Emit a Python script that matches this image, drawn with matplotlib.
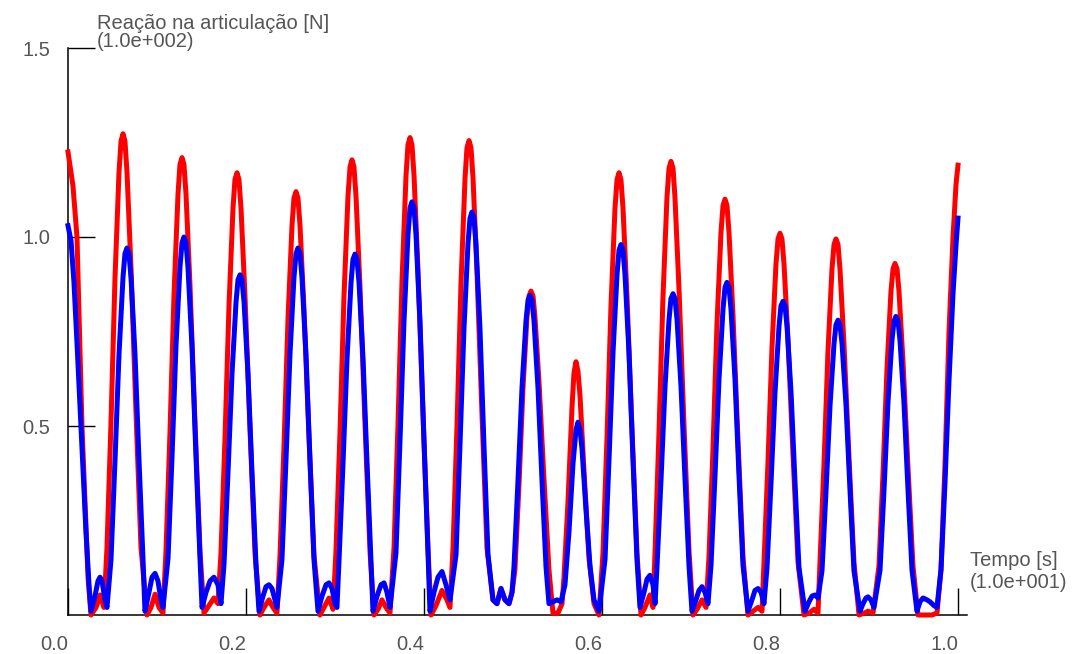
import numpy as np
import matplotlib
matplotlib.use("Agg")
from matplotlib import pyplot as plt

# Reação na articulação ao longo do tempo (tempo em s, força em N)
t_vermelho = [
    0.000, 0.056, 0.101, 0.135, 0.157, 0.191, 0.225, 0.258, 0.315, 0.360, 0.404,
    0.438, 0.483, 0.528, 0.573, 0.596, 0.618, 0.640, 0.663, 0.708, 0.764, 0.820,
    0.888, 0.933, 0.978, 1.022, 1.067,
    1.101, 1.146, 1.191, 1.236, 1.258, 1.281, 1.303, 1.326, 1.371, 1.427, 1.483,
    1.528, 1.584, 1.640, 1.685,
    1.719, 1.764, 1.809, 1.854, 1.876, 1.899, 1.921, 1.944, 1.989, 2.045, 2.101,
    2.157, 2.202, 2.258, 2.303, 2.348,
    2.382, 2.427, 2.472, 2.517, 2.539, 2.562, 2.584, 2.607, 2.652, 2.708, 2.764,
    2.831, 2.876, 2.933, 2.978,
    3.011, 3.056, 3.101, 3.146, 3.169, 3.191, 3.213, 3.236, 3.281, 3.337, 3.393,
    3.438, 3.483, 3.528, 3.573, 3.618,
    3.663, 3.708, 3.753, 3.798, 3.820, 3.843, 3.865, 3.888, 3.933, 3.989, 4.045,
    4.079, 4.135, 4.202, 4.258, 4.292,
    4.326, 4.371, 4.416, 4.461, 4.483, 4.506, 4.528, 4.551, 4.596, 4.652, 4.708,
    4.775, 4.820, 4.865, 4.910, 4.955, 4.989,
    5.022, 5.067, 5.112, 5.157, 5.180, 5.202, 5.225, 5.247, 5.292, 5.348, 5.404,
    5.449, 5.506, 5.551,
    5.573, 5.618, 5.663, 5.685, 5.708, 5.730, 5.753, 5.798, 5.854, 5.910, 5.966,
    6.011, 6.056, 6.101, 6.146, 6.169, 6.191, 6.213, 6.236, 6.281, 6.337, 6.393,
    6.438, 6.483, 6.539, 6.573,
    6.596, 6.640, 6.685, 6.730, 6.753, 6.775, 6.798, 6.820, 6.865, 6.921, 6.978,
    7.022, 7.067, 7.124, 7.169,
    7.202, 7.247, 7.292, 7.337, 7.360, 7.382, 7.404, 7.427, 7.472, 7.528, 7.584,
    7.640, 7.697, 7.753, 7.798,
    7.820, 7.865, 7.910, 7.955, 7.978, 8.000, 8.022, 8.045, 8.090, 8.146, 8.202,
    8.270, 8.326, 8.382, 8.427,
    8.449, 8.494, 8.539, 8.584, 8.607, 8.629, 8.652, 8.674, 8.719, 8.775, 8.831,
    8.888, 8.944, 8.989, 9.045,
    9.112, 9.157, 9.202, 9.247, 9.270, 9.292, 9.315, 9.337, 9.382, 9.438, 9.494,
    9.551, 9.629, 9.708, 9.764,
    9.809, 9.854, 9.899, 9.944, 9.978, 10.000,
]
f_vermelho = [
    122.5, 113.5, 100, 69, 50, 30, 10, 0, 2, 5.3, 2,
    17.8, 50.9, 89.1, 117.1, 125.4, 127.3, 125.4, 117.1, 91.7, 53.5, 17.8,
    0, 2, 5.5, 2, 0.5,
    16.9, 48.4, 84.7, 111.3, 119.2, 121, 119.2, 111.3, 87.1, 50.8, 16.9,
    0.5, 2.5, 4.5, 3,
    16.4, 46.8, 81.9, 107.6, 115.2, 117, 115.2, 107.6, 84.2, 49.1, 16.4,
    0, 2, 4, 2, 0.5,
    15.7, 44.8, 78.4, 103, 110.3, 112, 110.3, 103, 80.6, 47, 15.7,
    0, 2, 4.5, 1.5,
    16.9, 48.2, 84.3, 110.8, 118.6, 120.4, 118.6, 110.8, 86.7, 50.6, 16.9,
    0, 1.5, 4, 2, 0.5,
    17.7, 50.5, 88.4, 116.2, 124.4, 126.3, 124.4, 116.2, 90.9, 53, 17.7,
    0, 2.5, 6.5, 4, 2,
    17.6, 50.2, 87.9, 115.5, 123.6, 125.5, 123.6, 115.5, 90.4, 52.7, 17.6,
    4, 3, 7, 4, 3, 6,
    12, 34.3, 60, 78.8, 84.4, 85.7, 84.4, 78.8, 61.7, 36, 12,
    0.5, 0.5, 3,
    10, 30, 55, 64, 67, 64.5, 58, 38, 15, 3, 0,
    16.4, 46.8, 81.9, 107.6, 115.2, 117, 115.2, 107.6, 84.2, 49.1, 16.4,
    0, 2, 5.3, 2,
    16.8, 48, 84, 110.4, 118.2, 120, 118.2, 110.4, 86.4, 50.4, 16.8,
    0, 1.5, 4, 2,
    15.4, 44, 77, 101.2, 108.4, 110, 108.4, 101.2, 79.2, 46.2, 15.4,
    0, 1, 2, 1,
    14.1, 40.4, 70.7, 92.9, 99.5, 101, 99.5, 92.9, 72.7, 42.4, 14.1,
    0, 0.5, 1.5, 0.5,
    13.9, 39.8, 69.7, 91.5, 98, 99.5, 98, 91.5, 71.6, 41.8, 13.9,
    0, 0.5, 1, 0.5,
    13, 37.2, 65.1, 85.6, 91.6, 93, 91.6, 85.6, 67, 39.1, 13,
    0, 0, 0, 0.5,
    12, 40, 75, 100, 114, 119,
]

t_azul = [
    0.000, 0.034, 0.067, 0.101, 0.135, 0.169, 0.202, 0.236, 0.258,
    0.303, 0.337, 0.360, 0.382, 0.416, 0.438,
    0.483, 0.528, 0.573, 0.618, 0.640, 0.663, 0.685, 0.708, 0.753, 0.798, 0.843,
    0.865, 0.910, 0.944, 0.978, 1.011, 1.045, 1.067,
    1.124, 1.169, 1.213, 1.258, 1.281, 1.303, 1.326, 1.348, 1.393, 1.438, 1.483,
    1.506, 1.551, 1.596, 1.640, 1.685, 1.719,
    1.753, 1.798, 1.843, 1.888, 1.910, 1.933, 1.955, 1.978, 2.022, 2.067, 2.112,
    2.146, 2.191, 2.225, 2.258, 2.292, 2.326, 2.348,
    2.404, 2.449, 2.494, 2.539, 2.562, 2.584, 2.607, 2.629, 2.674, 2.719, 2.764,
    2.809, 2.854, 2.899, 2.933, 2.966, 3.000, 3.022,
    3.045, 3.090, 3.135, 3.180, 3.202, 3.225, 3.247, 3.270, 3.315, 3.360, 3.404,
    3.427, 3.472, 3.517, 3.551, 3.584, 3.618,
    3.685, 3.730, 3.775, 3.820, 3.843, 3.865, 3.888, 3.910, 3.955, 4.000, 4.045,
    4.067, 4.112, 4.157, 4.202, 4.247, 4.292,
    4.360, 4.404, 4.449, 4.494, 4.517, 4.539, 4.562, 4.584, 4.629, 4.674, 4.719,
    4.775, 4.820, 4.865, 4.910, 4.955, 4.989,
    5.011, 5.056, 5.101, 5.146, 5.169, 5.191, 5.213, 5.236, 5.281, 5.326, 5.371,
    5.404, 5.449, 5.494, 5.539,
    5.584, 5.629, 5.674, 5.708, 5.730, 5.753, 5.775, 5.820, 5.865, 5.910, 5.966,
    6.034, 6.079, 6.124, 6.169, 6.191, 6.213, 6.236, 6.258, 6.303, 6.348, 6.393,
    6.427, 6.472, 6.506, 6.539, 6.573, 6.596,
    6.618, 6.663, 6.708, 6.753, 6.775, 6.798, 6.820, 6.843, 6.888, 6.933, 6.978,
    7.011, 7.056, 7.090, 7.124, 7.157, 7.191,
    7.225, 7.270, 7.315, 7.360, 7.382, 7.404, 7.427, 7.449, 7.494, 7.539, 7.584,
    7.640, 7.685, 7.719, 7.753, 7.787, 7.820,
    7.854, 7.899, 7.944, 7.989, 8.011, 8.034, 8.056, 8.079, 8.124, 8.169, 8.213,
    8.281, 8.326, 8.360, 8.393, 8.427,
    8.472, 8.517, 8.562, 8.607, 8.629, 8.652, 8.674, 8.697, 8.742, 8.787, 8.831,
    8.899, 8.933, 8.966, 8.989, 9.022, 9.056,
    9.124, 9.169, 9.213, 9.258, 9.281, 9.303, 9.326, 9.348, 9.393, 9.438, 9.483,
    9.539, 9.573, 9.607, 9.652, 9.685, 9.730, 9.764,
    9.809, 9.854, 9.899, 9.944, 9.978, 10.000,
]
f_azul = [
    103, 99, 88, 72, 55, 38, 22, 8, 1,
    5, 9, 10, 9, 4, 2,
    14.6, 40.8, 68.9, 89.3, 95.6, 97.1, 95.6, 89.3, 68.9, 40.8, 14.6,
    1, 6, 10, 11, 9, 4, 2,
    15, 42, 71, 92, 98.5, 100, 98.5, 92, 71, 42, 15,
    2, 6, 9, 10, 8, 3,
    13.5, 37.8, 63.9, 82.8, 88.7, 90, 88.7, 82.8, 63.9, 37.8, 13.5,
    1, 5, 7.5, 8, 7, 4, 2,
    14.6, 40.8, 68.9, 89.3, 95.6, 97.1, 95.6, 89.3, 68.9, 40.8, 14.6,
    1, 5, 8, 8.5, 7, 3, 2,
    14.3, 40.1, 67.8, 87.9, 94.1, 95.5, 94.1, 87.9, 67.8, 40.1, 14.3,
    1, 5, 8, 8.5, 6, 2,
    16.4, 45.9, 77.6, 100.6, 107.7, 109.3, 107.7, 100.6, 77.6, 45.9, 16.4,
    1, 6, 10, 11.5, 8, 4,
    16, 44.8, 75.7, 98.1, 105, 106.6, 105, 98.1, 75.7, 44.8, 16,
    4, 3, 7, 4, 3, 6,
    12.7, 35.5, 60, 77.8, 83.3, 84.6, 83.3, 77.8, 60, 35.5, 12.7,
    3, 3.5, 4, 3.5,
    8, 22, 40, 49, 51, 49, 44, 28, 13, 4, 1,
    14.7, 41.2, 69.6, 90.2, 96.5, 98, 96.5, 90.2, 69.6, 41.2, 14.7,
    2, 6, 9.5, 10.5, 8, 3,
    12.8, 35.7, 60.4, 78.2, 83.7, 85, 83.7, 78.2, 60.4, 35.7, 12.8,
    1, 4, 6.5, 7.5, 6, 3,
    13.2, 37, 62.5, 81, 86.7, 88, 86.7, 81, 62.5, 37, 13.2,
    1, 4, 6.5, 7, 6, 3,
    12.5, 34.9, 58.9, 76.4, 81.8, 83, 81.8, 76.4, 58.9, 34.9, 12.5,
    1, 3.5, 5, 5.3, 4.5,
    11.7, 32.8, 55.4, 71.8, 76.8, 78, 76.8, 71.8, 55.4, 32.8, 11.7,
    1, 3, 4.5, 4.8, 4, 2,
    11.9, 33.2, 56.1, 72.7, 77.8, 79, 77.8, 72.7, 56.1, 33.2, 11.9,
    1, 3.5, 4.5, 4, 3.5, 2.5, 2,
    12, 35, 62, 85, 98, 105,
]

# multiplicadores dos eixos
escala_t = 10.0
escala_f = 100.0

x_ticks = [0.0, 0.2, 0.4, 0.6, 0.8, 1.0]
y_ticks = [0.5, 1.0, 1.5]

plt.rcParams['font.family'] = ['Liberation Sans', 'DejaVu Sans']
cinza = '#555555'

W, H = 1077, 654
fig = plt.figure(figsize=(W / 100, H / 100), dpi=100)
ax = fig.add_axes([68 / W, 39 / H, 899 / W, 567 / H])

ax.plot(np.array(t_vermelho) / escala_t, np.array(f_vermelho) / escala_f,
        color='#ff0000', lw=3.6, clip_on=False, zorder=3)
ax.plot(np.array(t_azul) / escala_t, np.array(f_azul) / escala_f,
        color='#0000ff', lw=3.6, clip_on=False, zorder=4)

ax.set_xlim(0, 899 / 890)
ax.set_ylim(0, 1.5)
ax.spines['top'].set_visible(False)
ax.spines['right'].set_visible(False)
for lado in ['left', 'bottom']:
    ax.spines[lado].set_linewidth(1.1)
    ax.spines[lado].set_color('black')

ax.set_xticks(x_ticks)
ax.set_xticklabels(['%.1f' % v for v in x_ticks])
ax.set_yticks(y_ticks)
ax.set_yticklabels(['%.1f' % v for v in y_ticks])
ax.tick_params(axis='both', direction='in', length=19.5, width=1.0,
               color='black', labelsize=14.5, labelcolor=cinza)
ax.tick_params(axis='x', pad=14.5)
ax.tick_params(axis='y', pad=13)
for rotulo in ax.get_xticklabels():
    rotulo.set_ha('right')

# títulos dos eixos em duas linhas, com o multiplicador
fig.text(97 / W, 1 - 29 / H, 'Reação na articulação [N]', fontsize=14.5,
         color=cinza, ha='left', va='baseline')
fig.text(97 / W, 1 - 47 / H, '(1.0e+002)', fontsize=14.5,
         color=cinza, ha='left', va='baseline')
fig.text(970 / W, 1 - 566 / H, 'Tempo [s]', fontsize=14.5,
         color=cinza, ha='left', va='baseline')
fig.text(970 / W, 1 - 588 / H, '(1.0e+001)', fontsize=14.5,
         color=cinza, ha='left', va='baseline')

fig.savefig('out.png', dpi=100)
